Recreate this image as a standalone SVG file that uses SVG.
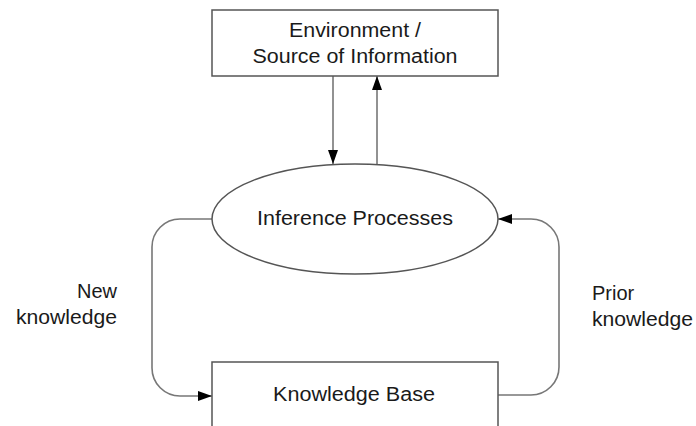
<svg xmlns="http://www.w3.org/2000/svg" width="696" height="426" viewBox="0 0 696 426">
<defs>
<marker id="ah" viewBox="0 0 14 10" refX="14" refY="5" markerWidth="14" markerHeight="10" markerUnits="userSpaceOnUse" orient="auto">
<path d="M0,0 L14,5 L0,10 Z" fill="#000"/>
</marker>
<style>
.box{fill:#fff;stroke:#555;stroke-width:1.5}
.con{fill:none;stroke:#777;stroke-width:1.6}
.t{font-family:"Liberation Sans",Arial,sans-serif;font-size:20px;fill:#1a1a1a}
</style>
</defs>
<rect width="696" height="426" fill="#fff"/>
<g id="connectors">
<path class="con" d="M333,76 V164" marker-end="url(#ah)"/>
<path class="con" d="M377,164 V76" marker-end="url(#ah)"/>
<path class="con" d="M212,219 H180 A28,28 0 0 0 152,247 V368 A28,28 0 0 0 180,396 H212" marker-end="url(#ah)"/>
<path class="con" d="M498,395 H531 A28,28 0 0 0 559,367 V247 A28,28 0 0 0 531,219 H498" marker-end="url(#ah)"/>
</g>
<g id="environment">
<rect class="box" x="212" y="10" width="286" height="66"/>
<text class="t" x="355" y="37" text-anchor="middle" textLength="132" lengthAdjust="spacingAndGlyphs">Environment /</text>
<text class="t" x="355" y="63" text-anchor="middle" textLength="205" lengthAdjust="spacingAndGlyphs">Source of Information</text>
</g>
<g id="inference">
<ellipse class="box" cx="355" cy="219" rx="143" ry="55"/>
<text class="t" x="355" y="225" text-anchor="middle" textLength="196" lengthAdjust="spacingAndGlyphs">Inference Processes</text>
</g>
<g id="knowledge-base">
<path class="box" d="M212,430 V362 H498 V430"/>
<text class="t" x="354" y="401" text-anchor="middle" textLength="162" lengthAdjust="spacingAndGlyphs">Knowledge Base</text>
</g>
<g id="labels">
<text class="t" x="117" y="298" text-anchor="end">New</text>
<text class="t" x="117" y="324" text-anchor="end" textLength="101" lengthAdjust="spacingAndGlyphs">knowledge</text>
<text class="t" x="592" y="300">Prior</text>
<text class="t" x="592" y="326" textLength="101" lengthAdjust="spacingAndGlyphs">knowledge</text>
</g>
</svg>
